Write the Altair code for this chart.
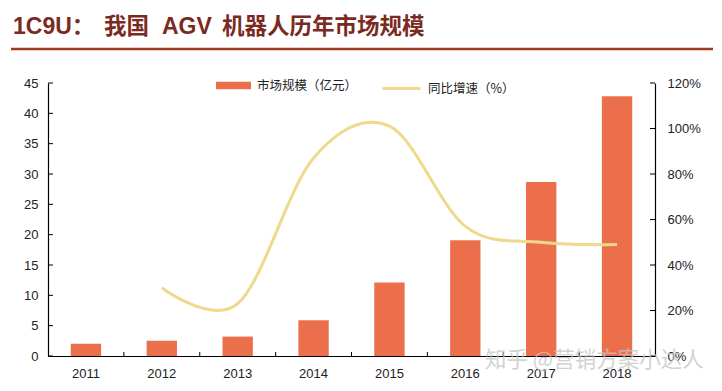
import altair as alt
import pandas as pd

# ---------------- data ----------------
years = ["2011", "2012", "2013", "2014", "2015", "2016", "2017", "2018"]
market_size = [2.0, 2.5, 3.2, 5.9, 12.1, 19.1, 28.7, 42.8]
growth_years = ["2012", "2013", "2014", "2015", "2016", "2017", "2018"]
growth = [0.30, 0.23, 0.87, 1.01, 0.57, 0.50, 0.49]
left_ticks = [0, 5, 10, 15, 20, 25, 30, 35, 40, 45]
right_ticks = [0, 0.2, 0.4, 0.6, 0.8, 1.0, 1.2]
series_bar = "市场规模（亿元）"
series_line = "同比增速（%）"
title_parts = ["1C9U：", "我国", "AGV", "机器人历年市场规模"]
watermark = "知乎 @营销方案小达人"

# ---------------- layout / style ----------------
W, H = 607, 273
BAR = "#EC6F4C"
LINE = "#EFD98C"
TITLE_C = "#7A2A1F"
FONT = "Liberation Sans"
CJK = "Noto Sans CJK SC"
title_x = [-35, 56, 114, 174]

bars_df = pd.DataFrame({"year": years, "size": market_size, "s": series_bar})
line_df = pd.DataFrame({"year": growth_years, "growth": growth, "s": series_line})

xscale = alt.Scale(domain=years, paddingInner=0.6, paddingOuter=0.3)
lscale = alt.Scale(domain=[0, 45], nice=False, zero=True)
rscale = alt.Scale(domain=[0, 1.2], nice=False, zero=True)

x_axis = alt.Axis(labelAngle=0, ticks=False, tickSize=0, labelPadding=11,
                  domainColor="#000", domainWidth=1.2, labelFontSize=13,
                  labelFont=FONT, labelColor="#222", grid=False)
l_axis = alt.Axis(values=left_ticks, ticks=False, tickSize=0, labelPadding=10,
                  grid=False, domainColor="#000", domainWidth=1.2,
                  labelFontSize=13, labelFont=FONT, labelColor="#222")
r_axis = alt.Axis(orient="right", values=right_ticks, format=".0%", ticks=False,
                  tickSize=0, labelPadding=12, grid=False, domainColor="#000",
                  domainWidth=1.2, labelFontSize=13, labelFont=FONT,
                  labelColor="#222")

X = alt.X("year:N", scale=xscale, sort=years, title=None, axis=x_axis)

bars = alt.Chart(bars_df).mark_bar(color=BAR).encode(
    x=X,
    y=alt.Y("size:Q", scale=lscale, title=None, axis=l_axis),
    color=alt.Color("s:N", scale=alt.Scale(domain=[series_bar], range=[BAR]),
                    legend=alt.Legend(title=None, orient="none", legendX=168, legendY=-15,
                                      symbolType="M-1,-0.22H1V0.22H-1Z", symbolSize=1225,
                                      symbolStrokeWidth=0, labelFontSize=12.5, labelFont=CJK,
                                      labelColor="#222", padding=0, labelOffset=6)),
)

lticks = alt.Chart(pd.DataFrame({"size": left_ticks})).mark_rule(color="#000").encode(
    y=alt.Y("size:Q", scale=lscale, title=None, axis=l_axis),
    x=alt.value(0), x2=alt.value(5),
)

line = alt.Chart(line_df).mark_line(strokeWidth=3, interpolate="cardinal", tension=0).encode(
    x=X,
    y=alt.Y("growth:Q", scale=rscale, title=None, axis=r_axis),
    stroke=alt.Stroke("s:N", scale=alt.Scale(domain=[series_line], range=[LINE]),
                      legend=alt.Legend(title=None, orient="none", legendX=333, legendY=-15,
                                        symbolType="stroke", symbolSize=1444,
                                        symbolStrokeWidth=3, labelFontSize=12.5, labelFont=CJK,
                                        labelColor="#222", padding=0, labelOffset=6)),
)

rticks = alt.Chart(pd.DataFrame({"growth": right_ticks})).mark_rule(color="#000").encode(
    y=alt.Y("growth:Q", scale=rscale, title=None, axis=r_axis),
    x=alt.value(W - 5), x2=alt.value(W),
)

xticks = alt.Chart(pd.DataFrame({"year": years[:-1]})).mark_rule(
    color="#000", xOffset=W / len(years) / 2
).encode(
    x=X,
    y=alt.value(H), y2=alt.value(H - 4),
)

title_layers = []
for txt, tx in zip(title_parts, title_x):
    is_latin = txt in ("1C9U：", "AGV")
    title_layers.append(
        alt.Chart(pd.DataFrame({"t": [txt]})).mark_text(
            align="left", baseline="alphabetic", fontSize=23 if is_latin else 22.5,
            fontWeight="bold", font=(FONT + ", " + CJK) if is_latin else CJK, color=TITLE_C,
        ).encode(text="t:N", x=alt.value(tx), y=alt.value(-49))
    )

underline = alt.Chart(pd.DataFrame({"t": [0]})).mark_rule(color="#A23A22", strokeWidth=2.5).encode(
    x=alt.value(-37), x2=alt.value(665), y=alt.value(-34)
)

wm = alt.Chart(pd.DataFrame({"t": [watermark]})).mark_text(
    align="left", baseline="alphabetic", fontSize=21.5, font=CJK, color="#c4c4c4", opacity=0.75,
).encode(text="t:N", x=alt.value(437), y=alt.value(284))

left_layer = alt.layer(bars, lticks)
right_layer = alt.layer(line, rticks)

chart = alt.layer(left_layer, right_layer, xticks, underline, wm, *title_layers).resolve_scale(
    y="independent"
).properties(
    width=W, height=H,
    autosize=alt.AutoSizeParams(type="none"),
    padding={"left": 40, "top": 75, "right": 59, "bottom": 27},
    background="white",
).configure_view(stroke=None)

chart.save("out.html", embed_options={"renderer": "svg", "actions": False})
